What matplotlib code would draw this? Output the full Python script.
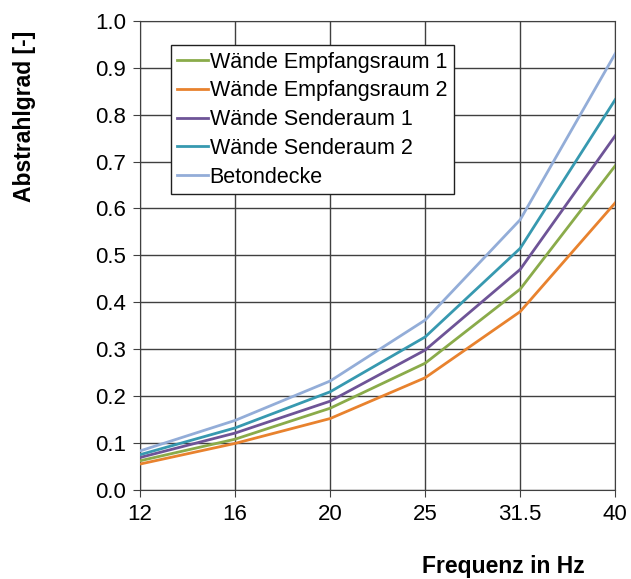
import numpy as np
import matplotlib.pyplot as plt

plt.rcParams['font.family'] = ['Liberation Sans', 'DejaVu Sans']

# Daten
freq_labels = ['12', '16', '20', '25', '31.5', '40']
empfang_1 = [0.062, 0.108, 0.174, 0.270, 0.428, 0.691]
empfang_2 = [0.055, 0.099, 0.152, 0.239, 0.380, 0.612]
sender_1 = [0.069, 0.121, 0.189, 0.298, 0.470, 0.755]
sender_2 = [0.075, 0.132, 0.209, 0.326, 0.515, 0.832]
betondecke = [0.083, 0.148, 0.232, 0.362, 0.576, 0.930]

series = [
    ('Wände Empfangsraum 1', empfang_1, '#8AAB4A'),
    ('Wände Empfangsraum 2', empfang_2, '#E8822E'),
    ('Wände Senderaum 1', sender_1, '#6E5497'),
    ('Wände Senderaum 2', sender_2, '#3799B0'),
    ('Betondecke', betondecke, '#93ADD8'),
]

fig = plt.figure(figsize=(6.31, 5.79), dpi=100)
ax = fig.add_axes([0.222, 0.154, 0.753, 0.810])

x = np.arange(len(freq_labels))
for name, vals, col in series:
    ax.plot(x, vals, color=col, lw=2, label=name, zorder=3)

ax.set_xlim(0, len(freq_labels) - 1)
ax.set_ylim(0, 1.0)
ax.set_xticks(x)
ax.set_xticklabels(freq_labels)
ax.set_yticks(np.arange(0, 1.01, 0.1))
ax.set_yticklabels(['%.1f' % v for v in np.arange(0, 1.01, 0.1)])
ax.tick_params(labelsize=16, direction='out', length=5, color='#404040', pad=5)
ax.grid(True, color='#404040', lw=1)
for s in ax.spines.values():
    s.set_color('#404040')

fig.text(25 / 631, 1 - 116 / 579, 'Abstrahlgrad [-]', fontsize=16.5, fontweight='bold',
         rotation=90, ha='center', va='center')
fig.text(503 / 631, 1 - 567 / 579, 'Frequenz in Hz', fontsize=16.5, fontweight='bold',
         ha='center', va='center')

leg = ax.legend(loc='upper left', bbox_to_anchor=(0.065, 0.948), fontsize=15.5,
                frameon=True, fancybox=False, handlelength=1.4, handletextpad=0.1,
                borderpad=0.3, labelspacing=0.36, borderaxespad=0)
leg.get_frame().set_edgecolor('#202020')
leg.get_frame().set_linewidth(1)
leg.get_frame().set_alpha(1)

fig.savefig('out.png', dpi=100)
